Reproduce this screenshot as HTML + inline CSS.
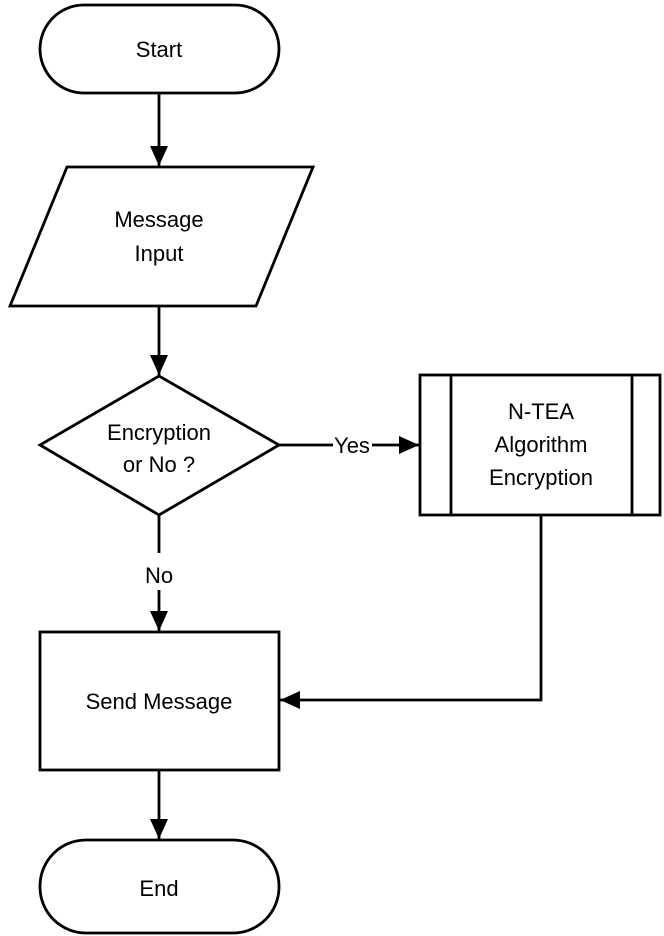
<!DOCTYPE html>
<html><head><style>body{margin:0;background:#fff}svg{display:block}text{font-family:"Liberation Sans",sans-serif;font-size:22px;fill:#000;text-anchor:middle}</style></head>
<body>
<svg width="664" height="936" viewBox="0 0 664 936">
<defs><marker id="a" markerWidth="20" markerHeight="18" refX="20" refY="9" orient="auto" markerUnits="userSpaceOnUse" viewBox="0 0 20 18"><path d="M0,0 L20,9 L0,18 z" fill="#000"/></marker></defs>
<g fill="none" stroke="#000" stroke-width="2.8">
<rect x="40" y="5" width="239" height="88" rx="44"/>
<polygon points="67,167 313,167 256,306 10,306"/>
<polygon points="159,376 279,445 159,515 40,445"/>
<rect x="420" y="375" width="240" height="140"/>
<line x1="451" y1="375" x2="451" y2="515"/><line x1="632" y1="375" x2="632" y2="515"/>
<rect x="40" y="632" width="239" height="138"/>
<rect x="40" y="840" width="239" height="93" rx="46"/>
<g marker-end="url(#a)">
<line x1="159" y1="93" x2="159" y2="166"/>
<line x1="159" y1="306" x2="159" y2="375"/>
<path d="M279,445 H333 M372,445 H419"/>
<path d="M159,515 V553 M159,590 V631"/>
<path d="M541,515 V700 H280"/>
<line x1="159" y1="770" x2="159" y2="839"/>
</g>
</g>
<text x="159" y="57">Start</text>
<text x="159" y="227">Message</text>
<text x="159" y="261">Input</text>
<text x="159" y="440">Encryption</text>
<text x="159" y="472">or No ?</text>
<text x="352" y="453">Yes</text>
<text x="159" y="583">No</text>
<text x="541" y="419">N-TEA</text>
<text x="541" y="452">Algorithm</text>
<text x="541" y="485">Encryption</text>
<text x="159" y="709">Send Message</text>
<text x="159" y="896">End</text>
</svg>
</body></html>
